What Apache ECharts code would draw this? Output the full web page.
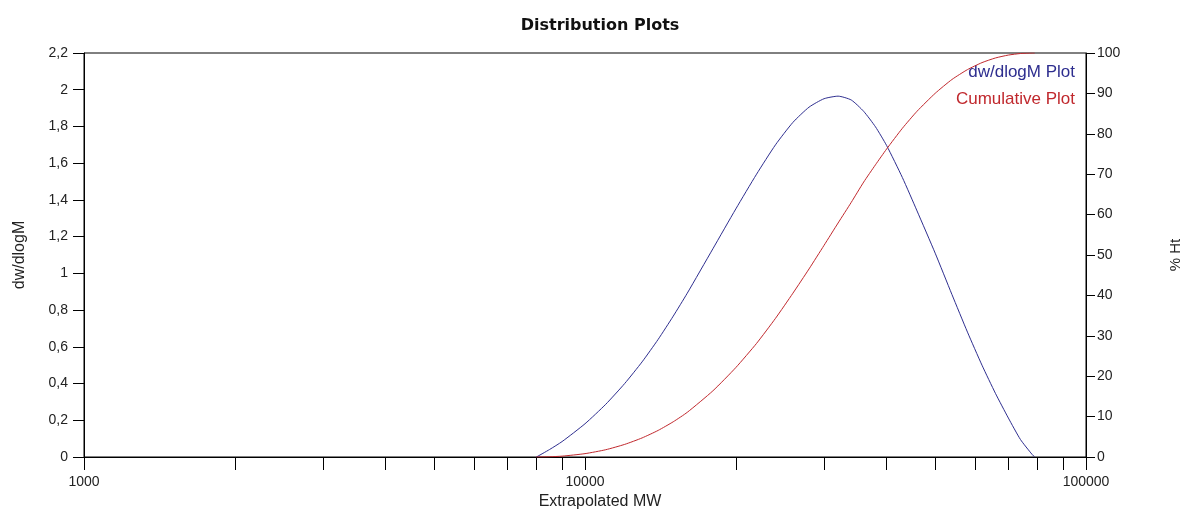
<!DOCTYPE html>
<html>
<head>
<meta charset="utf-8">
<script src="https://cdn.jsdelivr.net/npm/echarts@6/dist/echarts.min.js"></script>
<style>
html,body{margin:0;padding:0;background:#fff;}
#chart{width:1200px;height:516px;}
</style>
</head>
<body>
<div id="chart"></div>
<script>
// Molecular weight (x, log scale)
const mw = [8000, 8500, 9000, 10000, 11000, 12000, 13000, 14000, 15000, 16000, 18000, 20000, 22000, 24000, 26000, 28000, 30000, 32000, 34000, 36000, 38000, 40000, 43000, 46000, 50000, 54000, 58000, 62000, 66000, 70000, 74000, 78000, 79000];
// dw/dlogM (left axis)
const dwdlogm = [0, 0.041, 0.084, 0.181, 0.287, 0.400, 0.518, 0.641, 0.767, 0.892, 1.134, 1.351, 1.540, 1.700, 1.822, 1.905, 1.951, 1.965, 1.944, 1.882, 1.798, 1.696, 1.522, 1.340, 1.110, 0.885, 0.680, 0.500, 0.345, 0.212, 0.095, 0.015, 0];
// Cumulative % Ht (right axis)
const cumulative = [0, 0.06, 0.21, 0.83, 1.80, 3.12, 4.72, 6.59, 8.72, 11.06, 16.38, 22.14, 28.12, 34.32, 40.54, 46.55, 52.39, 57.92, 63.04, 68.06, 72.33, 76.24, 81.36, 85.58, 90.02, 93.44, 95.89, 97.62, 98.78, 99.49, 99.87, 100, 100];
const xTickValues = [1000, 2000, 3000, 4000, 5000, 6000, 7000, 8000, 9000, 10000, 20000, 30000, 40000, 50000, 60000, 70000, 80000, 90000, 100000];
const xLabelValues = [1000, 10000, 100000];

const blue = '#2e2e8f';
const red = '#c0282d';
const font = 'Liberation Sans, Arial, sans-serif';

const chart = echarts.init(document.getElementById('chart'));
chart.setOption({
  animation: false,
  backgroundColor: '#fff',
  title: {
    text: 'Distribution Plots',
    left: 'center',
    top: 13,
    textStyle: {fontFamily: 'DejaVu Sans', fontSize: 16, fontWeight: 'bold', color: '#111'}
  },
  grid: {left: 84, right: 114, top: 53, bottom: 59, show: true, borderColor: '#000', borderWidth: 1, backgroundColor: 'transparent'},
  xAxis: {
    type: 'log',
    logBase: 10,
    min: 1000,
    max: 100000,
    name: 'Extrapolated MW',
    nameLocation: 'middle',
    nameGap: 36,
    nameTextStyle: {fontFamily: font, fontSize: 16, color: '#222', padding: [0, 0, 0, 30]},
    axisLine: {lineStyle: {color: '#000', width: 1}},
    axisTick: {show: true, length: 13, customValues: xTickValues, lineStyle: {color: '#000'}},
    axisLabel: {customValues: xLabelValues, fontFamily: font, fontSize: 14, color: '#222', margin: 18,
      formatter: v => String(Math.round(v))},
    splitLine: {show: false},
    minorTick: {show: false}
  },
  yAxis: [{
    type: 'value',
    min: 0, max: 2.2, interval: 0.2,
    position: 'left',
    name: 'dw/dlogM',
    nameLocation: 'middle',
    nameGap: 56,
    nameTextStyle: {fontFamily: font, fontSize: 16, color: '#222'},
    axisLine: {show: true, lineStyle: {color: '#000'}},
    axisTick: {show: true, length: 11, lineStyle: {color: '#000'}},
    axisLabel: {fontFamily: font, fontSize: 14, color: '#222', margin: 16,
      formatter: v => String(Math.round(v * 10) / 10).replace('.', ',')},
    splitLine: {show: false}
  }, {
    type: 'value',
    min: 0, max: 100, interval: 10,
    position: 'right',
    name: '% Ht',
    nameLocation: 'middle',
    nameGap: 82,
    nameTextStyle: {fontFamily: font, fontSize: 15, color: '#222'},
    axisLine: {show: true, lineStyle: {color: '#000'}},
    axisTick: {show: true, length: 9, lineStyle: {color: '#000'}},
    axisLabel: {fontFamily: font, fontSize: 14, color: '#222', margin: 11},
    splitLine: {show: false}
  }],
  graphic: [
    {type: 'text', right: 125, top: 64, style: {text: 'dw/dlogM Plot', fill: blue, font: '17px ' + font, textAlign: 'right'}},
    {type: 'text', right: 125, top: 91, style: {text: 'Cumulative Plot', fill: red, font: '17px ' + font, textAlign: 'right'}}
  ],
  series: [{
    name: 'dw/dlogM Plot',
    type: 'line',
    yAxisIndex: 0,
    smooth: 0.2,
    symbol: 'none',
    lineStyle: {color: blue, width: 1},
    data: mw.map((m, i) => [m, dwdlogm[i]])
  }, {
    name: 'Cumulative Plot',
    type: 'line',
    yAxisIndex: 1,
    smooth: 0.2,
    symbol: 'none',
    lineStyle: {color: red, width: 1},
    data: mw.map((m, i) => [m, cumulative[i]])
  }]
});
</script>
</body>
</html>
